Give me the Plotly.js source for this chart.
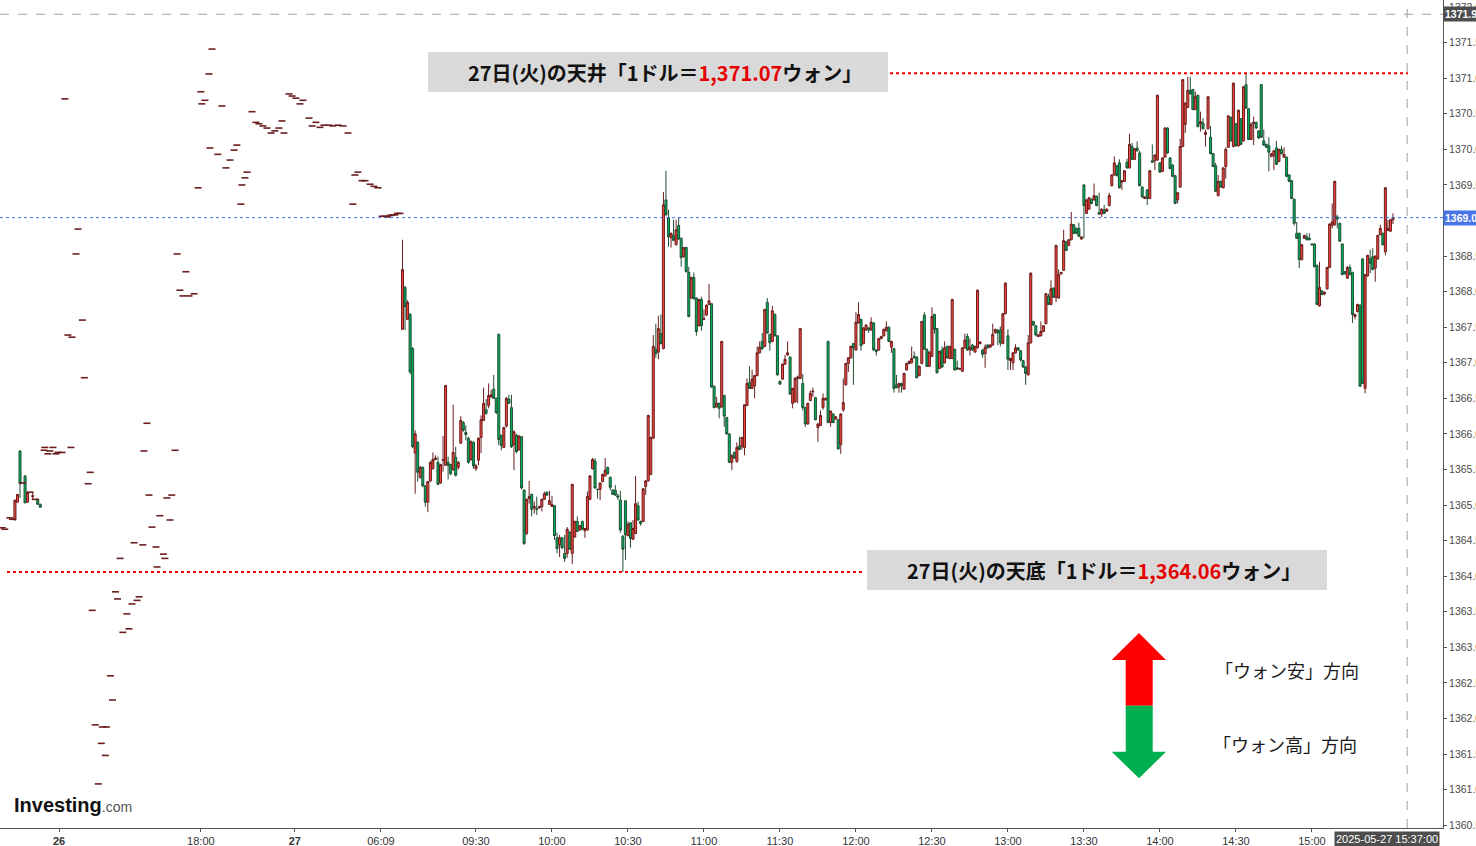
<!DOCTYPE html>
<html>
<head>
<meta charset="utf-8">
<script src="https://cdn.plot.ly/plotly-3.0.1.min.js"></script>
<style>
  html, body { margin: 0; padding: 0; background: #ffffff; }
  #chart { width: 1476px; height: 846px; }
</style>
</head>
<body>
<div id="chart"></div>
<script>
// ---------------- DATA ----------------
// 1-minute USD/KRW candles of the 27th session (bar index 0 = 09:30)
const sessionStartBar = -29;
const sessOpen = [
  1367.47,1368.06,1367.61,1367.68,1367.20,1365.73,1365.88,1365.39,1365.53,1365.27,
  1365.04,1365.34,1365.51,1365.64,1365.60,1365.31,1365.63,1365.56,1365.60,1365.57,
  1365.50,1365.67,1365.53,1365.87,1366.16,1366.02,1365.94,1365.64,1365.88,1365.51,
  1365.63,1365.95,1366.19,1366.34,1366.40,1366.52,1366.63,1366.50,1367.40,1365.98,
  1365.81,1366.11,1366.49,1366.37,1365.85,1365.98,1365.78,1365.96,1365.21,1364.60,
  1365.09,1365.15,1364.96,1364.95,1364.96,1364.98,1365.08,1365.18,1365.01,1364.98,
  1364.99,1364.54,1364.44,1364.54,1364.32,1364.32,1364.62,1364.32,1364.55,1364.77,
  1364.65,1364.77,1364.64,1364.65,1365.08,1365.51,1365.62,1365.22,1365.22,1365.33,
  1365.41,1365.53,1365.39,1365.21,1365.21,1365.13,1365.07,1364.56,1365.06,1364.57,
  1364.75,1364.52,1364.60,1364.99,1364.77,1364.77,1365.26,1365.34,1365.43,1365.94,
  1367.19,1367.15,1367.41,1367.20,1369.29,1369.04,1368.76,1368.79,1368.66,1368.93,
  1368.75,1368.49,1368.62,1368.27,1367.91,1368.20,1367.91,1367.52,1367.89,1367.61,
  1367.67,1367.82,1367.83,1366.67,1366.38,1366.43,1366.38,1366.54,1366.23,1366.00,
  1365.60,1365.74,1365.61,1365.83,1365.82,1365.81,1366.40,1366.72,1366.64,1366.68,
  1366.82,1367.14,1367.30,1367.23,1367.85,1367.40,1367.30,1367.68,1367.38,1366.74,
  1366.77,1366.98,1367.11,1367.08,1366.43,1366.45,1366.78,1366.78,1366.71,1366.37,
  1366.14,1366.47,1366.59,1366.51,1366.09,1366.12,1366.37,1366.48,1367.30,1366.16,
  1366.28,1366.21,1366.20,1365.85,1366.34,1366.69,1366.99,1367.07,1367.27,1367.18,
  1367.56,1367.61,1367.27,1367.46,1367.49,1367.46,1367.56,1367.18,1367.18,1367.34,
  1367.38,1367.45,1367.50,1367.22,1367.20,1366.69,1366.66,1366.71,1366.63,1366.90,
  1366.99,1367.00,1367.09,1367.08,1366.82,1366.99,1367.67,1367.19,1366.95,1367.09,
  1367.68,1367.48,1366.92,1367.18,1367.00,1367.23,1367.06,1367.06,1367.19,1366.93,
  1366.91,1366.88,1367.21,1367.37,1367.18,1367.25,1367.15,1367.21,1367.27,1367.18,
  1367.13,1367.25,1367.22,1367.25,1367.42,1367.46,1367.46,1367.27,1367.69,1367.38,
  1367.03,1367.00,1367.14,1367.21,1367.17,1367.03,1366.94,1366.83,1367.28,1367.58,
  1367.52,1367.37,1367.38,1367.44,1367.55,1367.93,1367.82,1368.05,1367.92,1367.91,
  1368.25,1368.30,1368.70,1368.65,1368.73,1368.94,1368.89,1368.89,1368.74,1369.50,
  1369.10,1369.16,1369.30,1369.29,1369.34,1369.11,1369.09,1369.15,1369.13,1369.21,
  1369.49,1369.64,1369.77,1369.81,1369.54,1369.55,1369.82,1369.74,1370.04,1369.86,
  1370.02,1369.95,1369.47,1369.31,1369.43,1369.31,1369.84,1369.84,1369.85,1369.81,
  1369.69,1369.89,1370.30,1369.88,1369.78,1369.63,1369.29,1369.47,1370.04,1370.35,
  1370.59,1370.83,1370.84,1370.56,1370.76,1370.36,1370.37,1370.21,1370.29,1370.17,
  1369.94,1369.77,1369.35,1369.55,1369.46,1369.76,1370.03,1370.45,1370.04,1370.36,
  1370.05,1370.43,1370.12,1370.91,1370.57,1370.14,1370.36,1370.38,1370.26,1370.91,
  1370.12,1370.07,1370.05,1369.90,1369.91,1370.02,1369.83,1370.00,1369.89,1369.89,
  1369.64,1369.56,1369.30,1368.82,1368.82,1368.45,1368.75,1368.77,1368.75,1368.67,
  1368.67,1368.37,1367.80,1368.01,1367.97,1368.04,1368.34,1368.93,1368.94,1369.05,
  1368.96,1368.67,1368.28,1368.19,1368.34,1368.27,1367.65,1367.72,1367.81,1368.46,
  1366.64,1368.22,1368.46,1368.49,1368.33,1368.46,1368.80,1368.82,1368.56,1368.86,
  1368.85,1369.01
];
const sessHigh = [
  1368.73,1368.08,1367.88,1367.70,1367.22,1366.05,1365.90,1365.55,1365.54,1365.28,
  1365.34,1365.62,1365.74,1365.70,1365.68,1365.58,1365.97,1366.69,1365.68,1365.58,
  1366.41,1365.82,1365.62,1366.25,1366.18,1366.12,1365.96,1365.91,1365.90,1365.58,
  1365.95,1366.26,1366.65,1366.49,1366.71,1366.62,1366.83,1366.51,1367.41,1365.99,
  1366.10,1366.52,1366.55,1366.55,1366.05,1366.00,1365.98,1365.97,1365.22,1365.09,
  1365.34,1365.16,1365.05,1365.12,1364.99,1365.09,1365.19,1365.19,1365.20,1365.13,
  1365.00,1364.61,1364.58,1364.55,1364.58,1364.69,1364.63,1365.30,1364.78,1364.84,
  1364.72,1364.78,1364.68,1365.19,1365.42,1365.66,1365.66,1365.23,1365.32,1365.44,
  1365.66,1365.54,1365.40,1365.22,1365.28,1365.16,1365.20,1364.58,1365.07,1364.77,
  1364.76,1364.79,1365.41,1365.05,1364.78,1365.24,1365.35,1366.27,1365.96,1367.39,
  1367.55,1367.66,1367.68,1369.40,1369.70,1369.15,1368.83,1369.01,1369.01,1369.05,
  1368.76,1368.63,1368.63,1368.35,1368.21,1368.27,1367.92,1367.90,1367.93,1367.75,
  1367.82,1368.11,1367.84,1366.68,1366.52,1366.44,1367.31,1366.55,1366.24,1366.01,
  1365.71,1365.75,1365.88,1365.96,1365.96,1366.42,1366.78,1366.95,1366.90,1366.83,
  1367.23,1367.30,1367.42,1367.76,1367.91,1367.41,1367.80,1367.69,1367.39,1366.75,
  1366.99,1367.11,1367.30,1367.09,1366.65,1366.80,1366.82,1367.49,1366.84,1366.38,
  1366.44,1366.61,1366.65,1366.52,1366.15,1366.33,1366.57,1366.51,1367.31,1366.33,
  1366.29,1366.25,1366.21,1366.29,1366.78,1367.00,1367.08,1367.24,1367.28,1367.71,
  1367.85,1367.62,1367.50,1367.54,1367.50,1367.64,1367.57,1367.19,1367.35,1367.38,
  1367.48,1367.58,1367.51,1367.31,1367.21,1366.83,1366.72,1366.72,1366.86,1367.00,
  1367.03,1367.23,1367.16,1367.09,1366.96,1367.59,1367.71,1367.20,1367.16,1367.78,
  1367.69,1367.49,1367.17,1367.23,1367.30,1367.24,1367.24,1367.90,1367.20,1367.03,
  1366.93,1367.22,1367.41,1367.41,1367.34,1367.26,1367.24,1368.03,1367.30,1367.19,
  1367.26,1367.26,1367.26,1367.55,1367.48,1367.47,1367.51,1367.70,1368.13,1367.47,
  1367.07,1367.15,1367.26,1367.22,1367.18,1367.04,1366.95,1367.39,1368.27,1367.59,
  1367.53,1367.40,1367.58,1367.53,1367.98,1367.97,1368.16,1368.06,1368.66,1368.31,
  1368.28,1368.87,1368.71,1368.74,1369.12,1368.95,1368.90,1368.97,1368.78,1369.51,
  1369.30,1369.33,1369.31,1369.52,1369.35,1369.39,1369.17,1369.22,1369.17,1369.39,
  1369.65,1369.90,1369.78,1369.86,1369.57,1369.71,1369.87,1370.22,1370.09,1370.02,
  1370.11,1369.98,1369.48,1369.34,1369.44,1369.71,1370.07,1369.93,1370.77,1369.82,
  1369.89,1370.31,1370.31,1369.89,1369.79,1369.64,1369.40,1370.15,1370.99,1370.66,
  1371.02,1371.02,1370.85,1370.81,1370.77,1370.53,1370.44,1370.28,1370.75,1370.33,
  1369.95,1369.81,1369.64,1369.56,1369.75,1370.03,1370.48,1370.46,1370.94,1370.37,
  1370.56,1370.44,1370.89,1371.07,1370.58,1370.38,1370.46,1370.39,1370.27,1370.92,
  1370.28,1370.08,1370.17,1369.95,1369.99,1370.12,1370.01,1370.05,1370.03,1369.90,
  1369.65,1369.57,1369.31,1368.98,1368.83,1368.67,1368.80,1368.82,1368.82,1368.68,
  1368.68,1368.38,1368.42,1368.02,1368.00,1368.35,1368.96,1369.24,1369.56,1369.08,
  1368.97,1368.68,1368.29,1368.36,1368.38,1368.28,1367.69,1367.83,1367.82,1368.47,
  1368.25,1368.52,1368.59,1368.61,1368.51,1368.80,1368.94,1368.83,1369.47,1369.01,
  1369.02,1369.10
];
const sessLow = [
  1367.47,1367.46,1367.60,1366.84,1365.80,1365.16,1365.33,1365.37,1365.25,1364.98,
  1364.90,1365.32,1365.50,1365.63,1365.28,1365.30,1365.47,1365.55,1365.36,1365.42,
  1365.48,1365.40,1365.50,1365.86,1366.03,1365.91,1365.58,1365.62,1365.51,1365.48,
  1365.56,1365.73,1366.18,1366.27,1366.36,1366.51,1366.49,1366.28,1365.84,1365.77,
  1365.80,1366.09,1366.42,1365.80,1365.49,1365.73,1365.76,1365.22,1364.44,1364.58,
  1365.02,1364.84,1364.88,1364.86,1364.95,1364.91,1365.07,1365.13,1365.00,1364.97,
  1364.51,1364.32,1364.27,1364.38,1364.20,1364.26,1364.37,1364.17,1364.54,1364.62,
  1364.64,1364.65,1364.54,1364.64,1365.07,1365.50,1365.23,1365.09,1365.07,1365.32,
  1365.40,1365.43,1365.21,1365.14,1365.13,1365.07,1364.61,1364.06,1364.23,1364.56,
  1364.40,1364.51,1364.59,1364.78,1364.71,1364.76,1365.14,1365.33,1365.42,1365.93,
  1367.07,1367.05,1367.26,1367.19,1369.07,1368.63,1368.62,1368.71,1368.65,1368.73,
  1368.35,1368.48,1368.27,1367.64,1367.90,1367.89,1367.38,1367.51,1367.45,1367.60,
  1367.66,1367.81,1366.65,1366.36,1366.37,1366.22,1366.37,1366.10,1365.99,1365.59,
  1365.49,1365.65,1365.60,1365.77,1365.78,1365.70,1366.39,1366.63,1366.63,1366.50,
  1366.81,1367.13,1367.18,1367.22,1367.41,1367.17,1367.29,1367.37,1366.82,1366.69,
  1366.76,1366.97,1367.10,1366.55,1366.36,1366.44,1366.43,1366.77,1366.33,1366.10,
  1366.13,1366.46,1366.52,1366.19,1365.89,1366.11,1366.34,1366.47,1366.15,1366.10,
  1366.15,1366.20,1365.78,1365.72,1366.31,1366.68,1366.87,1367.06,1366.69,1367.17,
  1367.55,1367.17,1367.26,1367.45,1367.42,1367.45,1367.17,1367.10,1367.17,1367.33,
  1367.37,1367.44,1367.29,1367.14,1366.58,1366.64,1366.58,1366.58,1366.62,1366.89,
  1366.98,1366.99,1367.06,1366.78,1366.81,1366.98,1367.18,1366.94,1366.94,1367.08,
  1367.41,1366.85,1366.91,1366.93,1366.99,1367.06,1367.05,1367.05,1366.89,1366.90,
  1366.90,1366.87,1367.20,1367.17,1367.10,1367.17,1367.14,1367.20,1367.26,1367.07,
  1366.93,1367.20,1367.21,1367.24,1367.41,1367.25,1367.23,1367.26,1367.68,1366.90,
  1366.90,1366.90,1367.13,1367.17,1367.02,1366.93,1366.69,1366.82,1367.27,1367.52,
  1367.37,1367.36,1367.37,1367.43,1367.54,1367.81,1367.81,1367.91,1367.85,1367.90,
  1368.24,1368.29,1368.57,1368.64,1368.72,1368.81,1368.81,1368.77,1368.73,1368.75,
  1369.09,1369.15,1369.23,1369.28,1369.20,1369.08,1369.05,1369.09,1369.12,1369.20,
  1369.48,1369.63,1369.62,1369.45,1369.43,1369.54,1369.73,1369.73,1369.85,1369.85,
  1369.97,1369.48,1369.32,1369.30,1369.22,1369.30,1369.81,1369.71,1369.84,1369.67,
  1369.68,1369.88,1369.94,1369.72,1369.61,1369.23,1369.24,1369.46,1370.03,1370.23,
  1370.58,1370.77,1370.55,1370.55,1370.31,1370.25,1370.28,1370.04,1370.28,1369.93,
  1369.75,1369.40,1369.34,1369.46,1369.45,1369.59,1370.02,1370.11,1370.03,1370.04,
  1370.04,1370.06,1370.11,1370.57,1370.13,1370.13,1370.06,1370.29,1370.15,1370.16,
  1370.05,1370.02,1369.69,1369.89,1369.71,1369.78,1369.82,1369.93,1369.88,1369.61,
  1369.54,1369.30,1368.93,1368.74,1368.33,1368.44,1368.74,1368.72,1368.72,1368.65,
  1368.34,1367.81,1367.79,1367.95,1367.95,1368.03,1368.33,1368.89,1368.93,1368.89,
  1368.70,1368.23,1368.24,1368.18,1368.23,1367.56,1367.61,1367.71,1366.66,1366.70,
  1366.57,1368.21,1368.26,1368.30,1368.14,1368.45,1368.79,1368.65,1368.51,1368.85,
  1368.84,1368.95
];
const sessClose = [
  1368.31,1367.79,1367.85,1366.87,1365.82,1366.00,1365.46,1365.53,1365.27,1365.04,
  1365.33,1365.60,1365.64,1365.66,1365.29,1365.57,1365.64,1366.68,1365.56,1365.44,
  1365.74,1365.42,1365.60,1366.19,1366.05,1365.99,1365.60,1365.89,1365.55,1365.55,
  1365.94,1366.20,1366.43,1366.29,1366.54,1366.55,1366.50,1366.30,1365.92,1365.84,
  1366.09,1366.50,1366.43,1365.82,1366.03,1365.75,1365.97,1365.24,1364.46,1365.08,
  1365.12,1364.94,1364.98,1364.94,1364.98,1365.08,1365.16,1365.14,1365.06,1365.01,
  1364.57,1364.39,1364.54,1364.40,1364.25,1364.66,1364.38,1365.29,1364.77,1364.63,
  1364.71,1364.66,1364.67,1365.12,1365.41,1365.64,1365.24,1365.22,1365.31,1365.43,
  1365.49,1365.44,1365.25,1365.15,1365.14,1365.11,1364.65,1364.38,1364.58,1364.73,
  1364.53,1364.67,1365.02,1364.79,1364.74,1365.23,1365.34,1366.26,1365.95,1367.23,
  1367.13,1367.48,1367.27,1369.22,1369.08,1368.77,1368.82,1368.72,1368.87,1368.74,
  1368.48,1368.62,1368.28,1367.65,1368.20,1367.90,1367.44,1367.89,1367.52,1367.62,
  1367.81,1367.87,1366.66,1366.37,1366.43,1366.36,1367.30,1366.25,1366.00,1365.60,
  1365.70,1365.66,1365.81,1365.78,1365.95,1366.41,1366.71,1366.64,1366.77,1366.82,
  1367.14,1367.22,1367.20,1367.75,1367.42,1367.28,1367.73,1367.38,1366.83,1366.70,
  1366.98,1367.05,1367.14,1366.56,1366.64,1366.78,1366.80,1367.48,1366.37,1366.14,
  1366.43,1366.57,1366.60,1366.20,1366.14,1366.26,1366.50,1366.50,1366.16,1366.32,
  1366.16,1366.24,1365.79,1366.28,1366.44,1366.99,1367.07,1367.23,1367.21,1367.57,
  1367.68,1367.24,1367.49,1367.53,1367.46,1367.57,1367.18,1367.16,1367.34,1367.37,
  1367.47,1367.50,1367.30,1367.30,1366.64,1366.65,1366.71,1366.68,1366.85,1366.99,
  1367.02,1367.06,1367.07,1366.79,1366.95,1367.58,1367.19,1366.95,1367.15,1367.65,
  1367.47,1366.86,1367.16,1366.94,1367.21,1367.07,1367.23,1367.89,1366.90,1366.91,
  1366.92,1367.21,1367.32,1367.18,1367.22,1367.18,1367.23,1368.02,1367.29,1367.12,
  1367.22,1367.21,1367.25,1367.40,1367.47,1367.42,1367.28,1367.69,1368.12,1367.05,
  1367.06,1367.14,1367.21,1367.18,1367.04,1366.94,1366.85,1367.28,1368.26,1367.53,
  1367.39,1367.39,1367.44,1367.52,1367.97,1367.82,1368.04,1367.92,1368.65,1368.24,
  1368.27,1368.72,1368.58,1368.73,1368.95,1368.82,1368.82,1368.78,1368.77,1369.21,
  1369.29,1369.32,1369.24,1369.35,1369.21,1369.09,1369.16,1369.10,1369.16,1369.35,
  1369.64,1369.81,1369.63,1369.46,1369.56,1369.70,1369.74,1370.07,1369.86,1370.01,
  1369.98,1369.49,1369.33,1369.33,1369.31,1369.70,1369.82,1369.92,1370.76,1369.68,
  1369.88,1370.30,1369.95,1369.73,1369.62,1369.24,1369.39,1370.04,1370.98,1370.65,
  1370.83,1370.78,1370.56,1370.74,1370.32,1370.39,1370.29,1370.24,1370.74,1369.94,
  1369.76,1369.41,1369.55,1369.47,1369.74,1370.00,1370.47,1370.12,1370.93,1370.05,
  1370.55,1370.07,1370.88,1370.58,1370.14,1370.35,1370.38,1370.30,1370.16,1370.17,
  1370.06,1370.03,1369.96,1369.94,1369.98,1369.79,1370.00,1369.94,1369.93,1369.62,
  1369.55,1369.31,1368.96,1368.75,1368.45,1368.66,1368.79,1368.73,1368.73,1368.66,
  1368.35,1367.82,1368.06,1367.96,1367.99,1368.34,1368.95,1368.98,1369.55,1369.02,
  1368.71,1368.24,1368.25,1368.34,1368.24,1367.68,1367.68,1367.82,1366.67,1366.71,
  1368.24,1368.51,1368.40,1368.31,1368.50,1368.79,1368.89,1368.66,1369.46,1368.89,
  1369.01,1369.04
];

// Early candles of the 26th (far left of the chart)
const earlyBar   = [-182, -181, -180, -178, -177, -175, -173, -172];
const earlyOpen  = [1364.79, 1365.04, 1365.76, 1365.41, 1365.04, 1365.12, 1365.08, 1365.01];
const earlyHigh  = [1365.07, 1365.15, 1365.77, 1365.42, 1365.18, 1365.17, 1365.09, 1365.02];
const earlyLow   = [1364.79, 1365.04, 1365.10, 1365.03, 1365.04, 1365.07, 1365.01, 1364.97];
const earlyClose = [1365.07, 1365.15, 1365.30, 1365.03, 1365.18, 1365.13, 1365.01, 1364.97];

// Single-price (flat) quotes in thin trading hours
const quoteBar = [
  -187, -186, -184, -183, -179, -176, -174,
  -170.5, -170.2, -169, -168.2, -167, -165.8, -165, -163.4, -162.3, -161.1, -159.9, -159.5,
  -157.9, -157.1, -155.4, -154.6, -153.1, -152.3, -151.5, -150.3, -149.1, -147.9, -147.5,
  -146.3, -145.9, -144.3, -143.5, -142.3, -141.5, -140.5, -139.4, -137.8, -137, -135.8,
  -135, -133.8, -133, -131.5, -131.1, -129.9, -129.1, -127.9, -126.3, -125.9, -124.8,
  -123.4, -122.8, -122, -120.8, -120.1, -118.8, -118, -116.9, -115.7, -114.5, -113.3,
  -111.3, -109.7, -108.6, -108.2, -107, -105.4, -105, -104.2, -101.9, -100.3, -98.7,
  -97.1, -95.5, -94.4, -92.8, -92.4, -91.2, -90.4, -88.4, -86.9, -85.7, -84.1, -82.5,
  -80.9, -79.4, -77.8, -76.6, -75.8, -73.8, -72.6, -71.1, -69.5, -68.3, -65.9, -64.7,
  -63.2, -61.6, -60, -58, -56.5, -54.5, -52.5, -50.5, -48.6, -47.8, -46.6, -45, -43.8,
  -41.8, -40.3, -38.7, -37, -36, -35, -34, -33, -32, -31, -30
];
const quotePrice = [
  1364.68, 1364.66, 1364.82, 1364.80, 1365.31, 1365.18, 1365.08,
  1365.77, 1365.81, 1365.72, 1365.76, 1365.81, 1365.72, 1365.74, 1365.74, 1370.71, 1367.39, 1365.81, 1367.36,
  1368.53, 1368.88, 1367.60, 1366.79, 1365.30, 1365.46, 1363.52, 1361.91, 1361.08, 1361.65, 1361.88,
  1361.48, 1361.88, 1362.60, 1362.26, 1363.78, 1363.68, 1364.25, 1363.21, 1363.47, 1363.26, 1363.61,
  1364.47, 1363.66, 1363.71, 1364.44, 1365.76, 1366.15, 1365.14, 1364.69, 1364.41, 1364.13, 1364.85,
  1364.31, 1364.25, 1365.10, 1364.79, 1365.14, 1365.77, 1368.53, 1368.02, 1367.94, 1368.28, 1367.94,
  1367.97, 1369.46, 1370.81, 1370.64, 1370.69, 1371.06, 1370.02, 1371.41, 1369.93, 1370.61, 1369.74,
  1369.85, 1369.99, 1370.06, 1369.23, 1369.50, 1369.60, 1369.68, 1370.53, 1370.38, 1370.36, 1370.33, 1370.30,
  1370.23, 1370.26, 1370.30, 1370.40, 1370.23, 1370.78, 1370.75, 1370.72, 1370.64, 1370.69, 1370.44, 1370.33,
  1370.38, 1370.31, 1370.34, 1370.34, 1370.33, 1370.34, 1370.33, 1370.23, 1369.23, 1369.64, 1369.68, 1369.56, 1369.56,
  1369.51, 1369.48, 1369.46, 1369.06, 1369.06, 1369.05, 1369.07, 1369.08, 1369.08, 1369.10, 1369.10
];

// Axis ticks (bar positions of the labelled times)
const tickBars   = [-164.6, -108.6, -71.5, -37.5, 0, 30, 60, 90, 120, 150, 180, 210, 240, 270, 300, 330];
const tickLabels = ['<b>26</b>', '18:00', '<b>27</b>', '06:09', '09:30', '10:00', '10:30', '11:00',
                    '11:30', '12:00', '12:30', '13:00', '13:30', '14:00', '14:30', '15:00'];

const dayHigh = 1371.07;
const dayLow = 1364.06;
const cursorBar = 367.6;
const cursorPrice = 1371.90;
const cursorTime = '2025-05-27 15:37:00';
const highLabel = '27日(火)の天井「1ドル＝<span style="color:#e60000">1,371.07</span>ウォン」';
const lowLabel  = '27日(火)の天底「1ドル＝<span style="color:#e60000">1,364.06</span>ウォン」';
const upLabel = '「ウォン安」方向';
const downLabel = '「ウォン高」方向';

// ---------------- BUILD ----------------
const W = 1476, H = 846;
const plotRight = 1443, plotBottom = 828;
const px = v => v / W;
const py = v => 1 - v / H;

const sessBars = sessOpen.map((_, k) => sessionStartBar + k);
const lastClose = sessClose[sessClose.length - 1];

const candles = {
  type: 'candlestick',
  x: earlyBar.concat(sessBars),
  open: earlyOpen.concat(sessOpen),
  high: earlyHigh.concat(sessHigh),
  low: earlyLow.concat(sessLow),
  close: earlyClose.concat(sessClose),
  increasing: { line: { color: '#6b1d1d', width: 1 }, fillcolor: '#f4473b' },
  decreasing: { line: { color: '#1f4f33', width: 1 }, fillcolor: '#00b35c' },
  whiskerwidth: 0,
  hoverinfo: 'skip',
  showlegend: false
};

const quotes = {
  type: 'scatter',
  mode: 'markers',
  x: quoteBar,
  y: quotePrice,
  marker: { symbol: 'line-ew', size: 5, line: { color: '#6b1d1d', width: 1.6 } },
  hoverinfo: 'skip',
  showlegend: false
};

function arrowPath(pts) {
  return 'M ' + pts.map(p => px(p[0]).toFixed(5) + ',' + py(p[1]).toFixed(5)).join(' L ') + ' Z';
}
const upArrow = arrowPath([[1139, 633], [1166, 660], [1152.7, 660], [1152.7, 705.7], [1125.7, 705.7], [1125.7, 660], [1111.7, 660]]);
const downArrow = arrowPath([[1125.7, 705.7], [1152.7, 705.7], [1152.7, 751.7], [1166, 751.7], [1139, 778.3], [1111.7, 751.7], [1125.7, 751.7]]);

const shapes = [
  // label boxes
  { type: 'rect', xref: 'paper', yref: 'paper', x0: px(428), x1: px(888), y0: py(92), y1: py(52),
    fillcolor: '#d9d9d9', line: { width: 0 }, layer: 'below' },
  { type: 'rect', xref: 'paper', yref: 'paper', x0: px(867), x1: px(1327), y0: py(590), y1: py(550),
    fillcolor: '#d9d9d9', line: { width: 0 }, layer: 'below' },
  // cursor crosshair
  { type: 'line', xref: 'paper', yref: 'y', x0: 0, x1: px(plotRight), y0: cursorPrice, y1: cursorPrice,
    line: { color: '#a0a0a0', width: 1, dash: 'dash' } },
  { type: 'line', xref: 'x', yref: 'paper', x0: cursorBar, x1: cursorBar, y0: py(plotBottom), y1: 1,
    line: { color: '#a0a0a0', width: 1, dash: 'dash' } },
  // current price
  { type: 'line', xref: 'paper', yref: 'y', x0: 0, x1: px(plotRight), y0: lastClose, y1: lastClose,
    line: { color: '#3b6cf0', width: 1, dash: 'dot' } },
  // day high / low
  { type: 'line', xref: 'paper', yref: 'y', x0: px(890), x1: px(1408), y0: dayHigh, y1: dayHigh,
    line: { color: '#ff0000', width: 2, dash: 'dot' } },
  { type: 'line', xref: 'paper', yref: 'y', x0: px(7), x1: px(865), y0: dayLow, y1: dayLow,
    line: { color: '#ff0000', width: 2, dash: 'dot' } },
  // direction arrows
  { type: 'path', xref: 'paper', yref: 'paper', path: upArrow, fillcolor: '#ff0000', line: { width: 0 } },
  { type: 'path', xref: 'paper', yref: 'paper', path: downArrow, fillcolor: '#00b050', line: { width: 0 } }
];

const cjk = "'Noto Sans CJK JP', 'Noto Sans', sans-serif";
const annotations = [
  { xref: 'paper', yref: 'paper', x: px(665), y: py(72), text: '<b>' + highLabel + '</b>', showarrow: false,
    font: { family: cjk, size: 20, color: '#111111' }, xanchor: 'center', yanchor: 'middle' },
  { xref: 'paper', yref: 'paper', x: px(1104), y: py(570), text: '<b>' + lowLabel + '</b>', showarrow: false,
    font: { family: cjk, size: 20, color: '#111111' }, xanchor: 'center', yanchor: 'middle' },
  { xref: 'paper', yref: 'paper', x: px(1287), y: py(670), text: upLabel, showarrow: false,
    font: { family: cjk, size: 18, color: '#1a1a1a' }, xanchor: 'center', yanchor: 'middle' },
  { xref: 'paper', yref: 'paper', x: px(1285), y: py(744), text: downLabel, showarrow: false,
    font: { family: cjk, size: 18, color: '#1a1a1a' }, xanchor: 'center', yanchor: 'middle' },
  { xref: 'paper', yref: 'paper', x: px(12), y: py(805), xanchor: 'left', yanchor: 'middle', showarrow: false,
    text: '<b>Investing</b><span style="color:#555555;font-size:14px">.com</span>',
    font: { family: 'Liberation Sans, Arial, sans-serif', size: 20, color: '#111111' } },
  // axis value tags
  { xref: 'paper', yref: 'y', x: px(plotRight), y: cursorPrice, xanchor: 'left', yanchor: 'middle',
    text: '<b>' + cursorPrice.toFixed(2) + '</b>', showarrow: false, bgcolor: '#4d4d4d', borderpad: 1,
    font: { family: 'Liberation Sans, Arial, sans-serif', size: 10.5, color: '#ffffff' } },
  { xref: 'paper', yref: 'y', x: px(plotRight), y: lastClose, xanchor: 'left', yanchor: 'middle',
    text: '<b>' + lastClose.toFixed(2) + '</b>', showarrow: false, bgcolor: '#4a73e8', borderpad: 1,
    font: { family: 'Liberation Sans, Arial, sans-serif', size: 10.5, color: '#ffffff' } },
  { xref: 'paper', yref: 'paper', x: px(1440), y: py(838.5), xanchor: 'right', yanchor: 'middle',
    text: cursorTime, showarrow: false, bgcolor: '#4d4d4d', borderpad: 1,
    font: { family: 'Liberation Sans Narrow, Liberation Sans, Arial, sans-serif', size: 11, color: '#ffffff' } }
];

const layout = {
  width: W, height: H,
  margin: { l: 0, r: 0, t: 0, b: 0, pad: 0 },
  paper_bgcolor: '#ffffff', plot_bgcolor: '#ffffff',
  showlegend: false,
  boxgap: 0.2, boxgroupgap: 0,
  xaxis: {
    domain: [0, px(plotRight)],
    range: [-187.9, 381.75],
    rangeslider: { visible: false },
    showgrid: false, zeroline: false,
    showline: true, linecolor: '#555555', linewidth: 1,
    ticks: 'outside', ticklen: 3, tickcolor: '#555555',
    tickmode: 'array', tickvals: tickBars, ticktext: tickLabels,
    tickfont: { family: 'Liberation Sans Narrow, Arial Narrow, Liberation Sans, Arial, sans-serif', size: 11, color: '#333333' },
    fixedrange: true
  },
  yaxis: {
    domain: [1 - plotBottom / H, 1],
    range: [1360.46, 1372.10],
    side: 'right',
    showgrid: false, zeroline: false,
    showline: true, linecolor: '#555555', linewidth: 1,
    ticks: 'outside', ticklen: 3, tickcolor: '#555555',
    tick0: 1360, dtick: 0.5, tickformat: '.2f',
    tickfont: { family: 'Liberation Sans, Arial, sans-serif', size: 10.5, color: '#4a4a4a' },
    fixedrange: true
  },
  shapes: shapes,
  annotations: annotations
};

Plotly.newPlot('chart', [candles, quotes], layout, { displayModeBar: false, staticPlot: true });
</script>
</body>
</html>
